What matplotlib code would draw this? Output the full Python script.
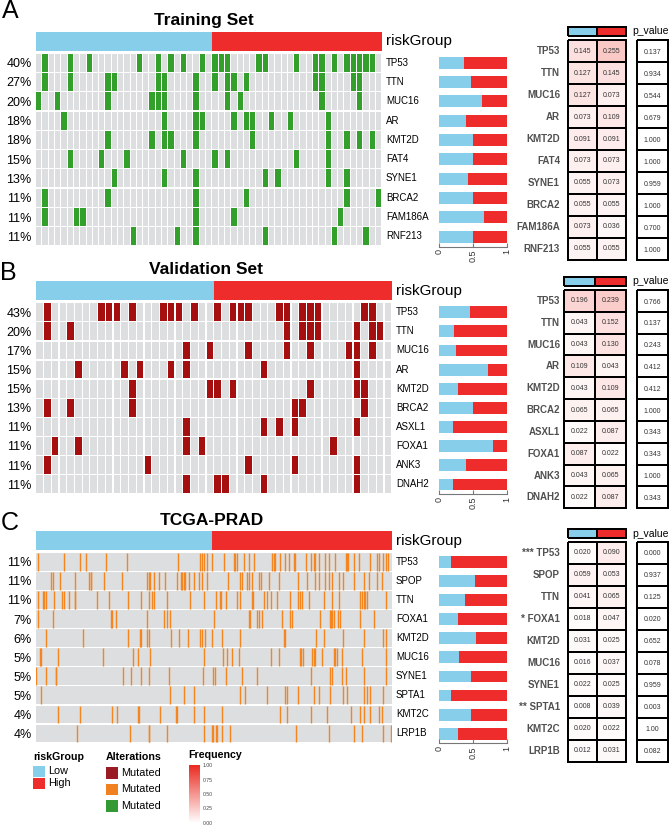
import numpy as np
import matplotlib
matplotlib.use('Agg')
import matplotlib.pyplot as plt
from matplotlib.colors import ListedColormap, LinearSegmentedColormap, Normalize
from matplotlib.patches import Rectangle
import matplotlib.colorbar as mcolorbar

plt.rcParams['font.family'] = ['Liberation Sans', 'DejaVu Sans']

# ---------------- data ----------------
# A - Training Set (55 samples shown, first 28 low risk)
a_genes = ['TP53', 'TTN', 'MUC16', 'AR', 'KMT2D', 'FAT4', 'SYNE1', 'BRCA2', 'FAM186A', 'RNF213']
a_pct = ['40%', '27%', '20%', '18%', '18%', '15%', '13%', '11%', '11%', '11%']
a_ncols, a_nlow = 55, 28
a_mut = [
    [1, 5, 8, 16, 19, 21, 23, 26, 28, 29, 30, 35, 36, 41, 44, 45, 47, 49, 50, 51, 52, 53],
    [1, 5, 11, 12, 19, 20, 25, 28, 30, 31, 33, 44, 45, 50, 51],
    [0, 3, 11, 18, 19, 20, 25, 30, 32, 45, 51],
    [4, 20, 25, 26, 31, 33, 34, 37, 40, 46],
    [11, 18, 20, 21, 25, 34, 46, 49, 51, 53],
    [5, 10, 14, 23, 28, 30, 41, 46],
    [12, 20, 25, 36, 38, 46, 49],
    [1, 11, 25, 33, 49, 54],
    [1, 6, 7, 25, 31, 48],
    [15, 22, 25, 36, 47, 52],
]
a_low = [0.145, 0.127, 0.127, 0.073, 0.091, 0.073, 0.055, 0.055, 0.073, 0.055]
a_high = [0.255, 0.145, 0.073, 0.109, 0.091, 0.073, 0.073, 0.055, 0.036, 0.055]
a_p = ['0.137', '0.934', '0.544', '0.679', '1.000', '1.000', '0.959', '1.000', '0.700', '1.000']
a_stars = [''] * 10

# B - Validation Set (46 samples shown, first 23 low risk)
b_genes = ['TP53', 'TTN', 'MUC16', 'AR', 'KMT2D', 'BRCA2', 'ASXL1', 'FOXA1', 'ANK3', 'DNAH2']
b_pct = ['43%', '20%', '17%', '15%', '15%', '13%', '11%', '11%', '11%', '11%']
b_ncols, b_nlow = 46, 23
b_mut = [
    [1, 8, 9, 10, 12, 16, 17, 18, 20, 23, 25, 26, 27, 31, 32, 34, 35, 36, 42, 43],
    [1, 4, 32, 34, 35, 36, 41, 43, 44],
    [19, 22, 27, 32, 35, 40, 41, 43],
    [5, 11, 13, 17, 19, 29, 41],
    [12, 22, 23, 25, 35, 41, 42],
    [1, 4, 12, 33, 34, 42],
    [19, 29, 31, 33, 41],
    [2, 5, 19, 21, 38],
    [1, 14, 27, 33, 41],
    [19, 23, 24, 29, 41],
]
b_low = [0.196, 0.043, 0.043, 0.109, 0.043, 0.065, 0.022, 0.087, 0.043, 0.022]
b_high = [0.239, 0.152, 0.130, 0.043, 0.109, 0.065, 0.087, 0.022, 0.065, 0.087]
b_p = ['0.766', '0.137', '0.243', '0.412', '0.412', '1.000', '0.343', '0.343', '1.000', '0.343']
b_stars = [''] * 10

# C - TCGA-PRAD (490 samples, first 243 low risk)
c_genes = ['TP53', 'SPOP', 'TTN', 'FOXA1', 'KMT2D', 'MUC16', 'SYNE1', 'SPTA1', 'KMT2C', 'LRP1B']
c_pct = ['11%', '11%', '11%', '7%', '6%', '5%', '5%', '5%', '4%', '4%']
c_ncols, c_nlow = 490, 243
c_mut = [
    [2, 39, 60, 69, 96, 125, 196, 226, 228, 231, 235, 242, 258, 272, 274, 277, 286, 293, 300, 325,
     327, 329, 336, 343, 348, 355, 357, 371, 378, 382, 384, 389, 398, 403, 412, 426, 428, 430, 437,
     444, 460, 469, 472, 478, 481, 485],
    [21, 23, 33, 54, 73, 75, 76, 94, 118, 153, 155, 157, 162, 169, 177, 194, 199, 201, 203, 205, 211,
     218, 224, 228, 235, 264, 281, 283, 291, 293, 297, 307, 309, 320, 334, 361, 373, 384, 389, 398,
     403, 408, 417, 423, 437, 451, 458, 469, 476],
    [2, 10, 11, 14, 24, 36, 39, 46, 53, 54, 84, 101, 126, 144, 155, 160, 162, 180, 212, 231, 248, 253,
     255, 262, 277, 281, 297, 299, 314, 318, 323, 332, 350, 361, 363, 366, 375, 396, 408, 417, 446,
     449, 451, 453, 455, 481],
    [2, 23, 103, 105, 110, 153, 176, 180, 185, 245, 293, 295, 304, 307, 311, 339, 350, 352, 391, 405,
     406, 408, 410, 415, 419, 446, 465],
    [14, 64, 127, 143, 145, 153, 156, 186, 197, 209, 226, 229, 232, 242, 256, 281, 341, 343, 385, 396,
     423, 451, 478, 482],
    [5, 7, 30, 92, 134, 140, 157, 231, 257, 263, 270, 280, 323, 334, 363, 365, 367, 380, 382, 384, 393,
     410, 412, 414, 421, 449, 482],
    [0, 14, 27, 28, 120, 130, 145, 155, 183, 230, 243, 246, 261, 283, 304, 378, 405, 408, 421, 427, 451, 482],
    [7, 185, 203, 217, 281, 288, 318, 343, 345, 361, 382, 389, 405, 423, 428, 451, 455, 460, 478],
    [30, 60, 105, 112, 140, 142, 171, 193, 194, 217, 231, 256, 336, 345, 378, 401, 433, 446, 451, 460, 472, 476],
    [57, 129, 155, 156, 180, 231, 242, 244, 247, 249, 256, 267, 358, 403, 437, 449, 478, 489],
]
c_low = [0.020, 0.059, 0.041, 0.018, 0.031, 0.016, 0.022, 0.008, 0.020, 0.012]
c_high = [0.090, 0.053, 0.065, 0.047, 0.025, 0.037, 0.025, 0.039, 0.022, 0.031]
c_p = ['0.000', '0.937', '0.125', '0.020', '0.652', '0.078', '0.959', '0.003', '1.00', '0.082']
c_stars = ['***', '', '', '*', '', '', '', '**', '', '']

freq_ticks = [0, 0.25, 0.5, 0.75, 1.0]

# ---------------- style ----------------
BLUE = '#87CEEB'
RED = '#EE2C2C'
GRAY = '#DDDEE0'
GREEN = '#33A02C'
DARKRED = '#A50F0F'
ORANGE = '#F5861F'
FREQ = LinearSegmentedColormap.from_list('freq', ['#FFFFFF', '#EA2A20'])

W, H = 669, 827
fig = plt.figure(figsize=(W / 100, H / 100), dpi=100)

# overlay in pixel coordinates for titles, letters and legend
ov = fig.add_axes([0, 0, 1, 1])
ov.set_xlim(0, W)
ov.set_ylim(H, 0)
ov.axis('off')


def px_axes(x0, y0, x1, y1):
    return fig.add_axes([x0 / W, 1 - y1 / H, (x1 - x0) / W, (y1 - y0) / H])


def draw_oncoprint(mut, ncols, nlow, genes, pct, mcolor, box, dense=False):
    x0, y0, x1, y1 = box
    n = len(genes)
    # risk group bar
    gax = px_axes(x0, y0 - 21.3, x1, y0 - 2.3)
    grp = np.r_[np.zeros(nlow), np.ones(ncols - nlow)]
    gax.pcolormesh(np.arange(ncols + 1), [0, 1], grp[None, :],
                   cmap=ListedColormap([BLUE, RED]), vmin=0, vmax=1)
    gax.set_xlim(0, ncols)
    gax.axis('off')
    gax.annotate('riskGroup', xy=(1, 0.5), xycoords='axes fraction', xytext=(3, 0),
                 textcoords='offset points', ha='left', va='center', fontsize=11)

    ax = px_axes(x0, y0, x1, y1)
    cols_all = np.arange(ncols) + 0.5
    if not dense:
        for i, cols in enumerate(mut):
            ax.bar(cols_all, 0.93, bottom=i + 0.035, width=0.84, color=GRAY, linewidth=0)
            ax.bar(np.array(cols) + 0.5, 0.93, bottom=i + 0.035, width=0.84,
                   color=mcolor, linewidth=0)
    else:
        ax.barh(np.arange(n) + 0.5, ncols, height=0.93, color=GRAY, linewidth=0)
        for i, cols in enumerate(mut):
            # thin line per mutated sample
            ax.vlines(np.array(cols) + 0.5, i + 0.035, i + 0.965, colors=mcolor,
                      linewidth=1.0, antialiased=True)
    ax.set_xlim(0, ncols)
    ax.set_ylim(n, 0)
    ax.set_xticks([])
    ax.set_yticks(np.arange(n) + 0.5)
    ax.set_yticklabels(pct, fontsize=9)
    ax.tick_params(length=0, pad=3)
    for s in ax.spines.values():
        s.set_visible(False)
    for i, g in enumerate(genes):
        ax.annotate(g, xy=(1, i + 0.5), xycoords=('axes fraction', 'data'), xytext=(3, 0),
                    textcoords='offset points', ha='left', va='center', fontsize=7)


def draw_bars(low, high, box):
    bax = px_axes(*box)
    low = np.array(low)
    high = np.array(high)
    frac = low / (low + high)
    y = np.arange(len(low)) + 0.5
    bax.barh(y, frac, height=0.62, color=BLUE, linewidth=0)
    bax.barh(y, 1 - frac, left=frac, height=0.62, color=RED, linewidth=0)
    bax.set_xlim(0, 1)
    bax.set_ylim(len(low), 0)
    for s in ['left', 'top', 'right']:
        bax.spines[s].set_visible(False)
    bax.spines['bottom'].set_color('#777777')
    bax.spines['bottom'].set_linewidth(0.8)
    bax.set_yticks([])
    bax.set_xticks([0, 0.5, 1])
    bax.set_xticklabels(['0', '0.5', '1'], rotation=90, fontsize=6.5, color='#333333')
    bax.tick_params(axis='x', direction='in', length=3, pad=2, color='#777777')


def draw_table(genes, low, high, pvals, stars, cx0, cx1, hy0, hy1, ty0, ty1):
    n = len(genes)
    hax = px_axes(cx0, hy0, cx1, hy1)
    m = hax.pcolormesh([0, 1, 2], [0, 1], [[0, 1]], cmap=ListedColormap([BLUE, RED]),
                       vmin=0, vmax=1, edgecolors='black', linewidth=1.3)
    m.set_clip_on(False)
    hax.set_xlim(0, 2)
    hax.set_ylim(0, 1)
    hax.axis('off')
    ov.text(632, (hy0 + hy1) / 2, 'p_value', fontsize=7.5, ha='left', va='center')

    tax = px_axes(cx0, ty0, cx1, ty1)
    F = np.column_stack([low, high])
    m = tax.pcolormesh(np.arange(3), np.arange(n + 1), F, cmap=FREQ, vmin=0, vmax=1,
                       edgecolors='black', linewidth=1.3)
    m.set_clip_on(False)
    tax.set_xlim(0, 2)
    tax.set_ylim(n, 0)
    tax.axis('off')
    for i in range(n):
        for j in range(2):
            tax.text(j + 0.5, i + 0.5, '%.3f' % F[i, j], ha='center', va='center',
                     fontsize=5, color='#333333')
        lbl = (stars[i] + ' ' + genes[i]) if stars[i] else genes[i]
        tax.annotate(lbl, xy=(0, i + 0.5), xycoords=('axes fraction', 'data'),
                     xytext=(-(cx0 - 560) * 0.72, 0), textcoords='offset points',
                     ha='right', va='center', fontsize=7, fontweight='bold', color='#505050')

    pax = px_axes(637, ty0, 668, ty1)
    m = pax.pcolormesh([0, 1], np.arange(n + 1), np.zeros((n, 1)),
                       cmap=ListedColormap(['white']), edgecolors='black', linewidth=1.3)
    m.set_clip_on(False)
    pax.set_xlim(0, 1)
    pax.set_ylim(n, 0)
    pax.axis('off')
    for i in range(n):
        pax.text(0.5, i + 0.55, pvals[i], ha='center', va='center', fontsize=5, color='#333333')


# ---------------- panel A ----------------
ov.text(2, 18.3, 'A', fontsize=18, ha='left', va='baseline')
ov.text(204, 24.5, 'Training Set', fontsize=12.5, fontweight='bold', ha='center', va='baseline')
draw_oncoprint(a_mut, a_ncols, a_nlow, a_genes, a_pct, GREEN, (35.7, 53, 381.7, 246))
draw_bars(a_low, a_high, (439, 53, 506.7, 246.5))
draw_table(a_genes, a_low, a_high, a_p, a_stars, 568, 626, 26.7, 35.7, 40, 260)

# ---------------- panel B ----------------
ov.text(0, 280, 'B', fontsize=18, ha='left', va='baseline')
ov.text(206, 273.5, 'Validation Set', fontsize=12.5, fontweight='bold', ha='center', va='baseline')
draw_oncoprint(b_mut, b_ncols, b_nlow, b_genes, b_pct, DARKRED, (35.7, 302.7, 391.7, 493.7))
draw_bars(b_low, b_high, (439, 302.7, 506.7, 494))
draw_table(b_genes, b_low, b_high, b_p, b_stars, 564.3, 625.7, 276.7, 285.7, 290, 508.3)

# ---------------- panel C ----------------
ov.text(1, 530, 'C', fontsize=18, ha='left', va='baseline')
ov.text(212, 525, 'TCGA-PRAD', fontsize=12.5, fontweight='bold', ha='center', va='baseline')
draw_oncoprint(c_mut, c_ncols, c_nlow, c_genes, c_pct, ORANGE, (35.7, 552.3, 391.7, 743), dense=True)
draw_bars(c_low, c_high, (439, 552.3, 506.7, 743.3))
draw_table(c_genes, c_low, c_high, c_p, c_stars, 567.7, 625.7, 529.3, 538.3, 541.7, 761.7)

# ---------------- legends ----------------
ov.text(33, 757, 'riskGroup', fontsize=7.7, fontweight='bold', ha='left', va='center')
for k, (lab, col) in enumerate([('Low', BLUE), ('High', RED)]):
    yy = 766 + k * 12
    ov.add_patch(Rectangle((33, yy), 12, 11, facecolor=col, edgecolor='none'))
    ov.text(48, yy + 5.5, lab, fontsize=7.8, ha='left', va='center')

ov.text(106, 757, 'Alterations', fontsize=7.7, fontweight='bold', ha='left', va='center')
for k, col in enumerate(['#9B1B24', '#F08020', '#339933']):
    yy = 767 + k * 16.5
    ov.add_patch(Rectangle((106, yy), 11.5, 11.5, facecolor=col, edgecolor='none'))
    ov.text(121, yy + 6, 'Mutated', fontsize=7.8, ha='left', va='center')

ov.text(188, 755, 'Frequency', fontsize=7.7, fontweight='bold', ha='left', va='center')
cax = px_axes(189, 765, 200, 823)
cb = mcolorbar.ColorbarBase(cax, cmap=FREQ, norm=Normalize(0, 1), ticks=freq_ticks)
cb.outline.set_visible(False)
cax.set_yticklabels(['%.2f' % t for t in freq_ticks], fontsize=3.7, color='#444444')
cax.tick_params(length=0, pad=2)

fig.savefig('out.png', dpi=100)
